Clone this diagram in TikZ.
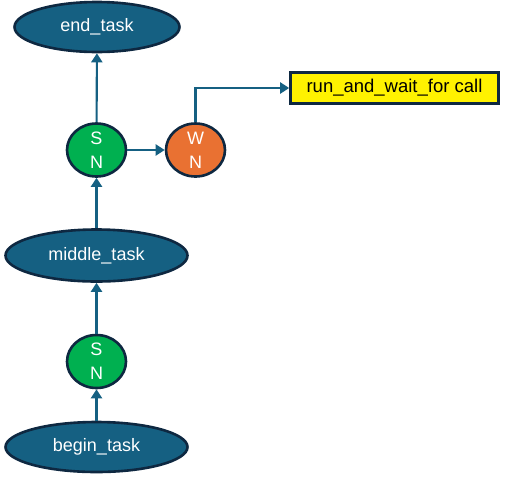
\documentclass[tikz,border=0pt]{standalone}
\usepackage{fontspec}
\setmainfont{Liberation Sans}
\usetikzlibrary{shapes.geometric,arrows.meta}
\definecolor{taskblue}{HTML}{156082}
\definecolor{edgenavy}{HTML}{0E2841}
\definecolor{sgreen}{HTML}{00B050}
\definecolor{worange}{HTML}{E97132}
\tikzset{
  task/.style={ellipse,draw=edgenavy,line width=2.6pt,fill=taskblue,text=white,inner sep=0pt,font=\fontsize{18}{21}\selectfont},
  snode/.style={ellipse,draw=edgenavy,line width=2.6pt,fill=sgreen,text=white,inner sep=0pt,minimum width=59pt,minimum height=53pt,font=\fontsize{18}{24}\selectfont,align=center},
  wnode/.style={snode,fill=worange},
  callbox/.style={draw=edgenavy,line width=2.6pt,fill=yellow,minimum width=208pt,minimum height=31pt,inner sep=0pt,font=\fontsize{18.5}{21}\selectfont},
  conn/.style={draw=taskblue,line width=2.1pt,-{Triangle[length=9pt,width=11pt]}}
}
\begin{document}
\begin{tikzpicture}[x=1pt,y=-1pt]
\useasboundingbox (0,0) rectangle (513,480);
\node[task,minimum width=165pt,minimum height=50pt] (end) at (97,27) {end\_task};
\node[snode] (s1) at (96.5,150) {S\\N};
\node[wnode] (w1) at (195.5,150) {W\\N};
\node[callbox] (call) at (394.5,88) {run\_and\_wait\_for call};
\node[task,minimum width=182pt,minimum height=52pt] (mid) at (96.5,255.5) {middle\_task};
\node[snode] (s2) at (96.5,361.5) {S\\N};
\node[task,minimum width=182pt,minimum height=50pt] (begin) at (96.5,447) {begin\_task};
\draw[conn] (begin) -- (s2);
\draw[conn] (s2) -- (mid);
\draw[conn] (mid) -- (s1);
\draw[conn] (s1) -- (end);
\draw[conn] (s1) -- (w1);
\draw[conn] (w1.north) |- (call.west);
\end{tikzpicture}
\end{document}
